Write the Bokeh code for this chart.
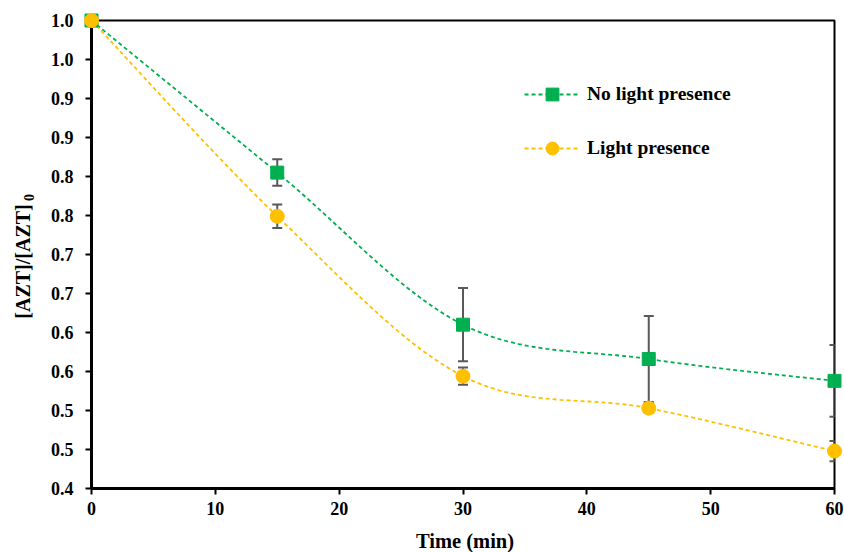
import math
from bokeh.plotting import figure
from bokeh.models import (ColumnDataSource, Whisker, TeeHead, Legend, LegendItem,
                          FixedTicker, Range1d)
from bokeh.core.properties import value
from bokeh.embed import file_html
from bokeh.resources import INLINE

# ---- data ----
time = [0, 15, 30, 45, 60]
no_light = [1.0, 0.805, 0.610, 0.566, 0.538]
no_light_err = [0.0, 0.017, 0.047, 0.055, 0.046]
light = [1.0, 0.749, 0.544, 0.503, 0.448]
light_err = [0.0, 0.015, 0.011, 0.006, 0.013]

y_ticks = [0.4, 0.45, 0.5, 0.55, 0.6, 0.65, 0.7, 0.75, 0.8, 0.85, 0.9, 0.95, 1.0]
y_tick_labels = ["0.4", "0.5", "0.5", "0.6", "0.6", "0.7", "0.7", "0.8", "0.8", "0.9", "0.9", "1.0", "1.0"]
x_ticks = [0, 10, 20, 30, 40, 50, 60]

series_names = ["No light presence", "Light presence"]
x_title = "Time (min)"
y_title = "[AZT]/[AZT]"
y_title_sub = "0"

GREEN = "#00B050"
GOLD = "#FFC000"
ERR = "#595959"
FONT = "Liberation Serif"

X0, X1, Y0, Y1 = 0, 60, 0.4, 1.0
FRAME_W, FRAME_H = 743, 468


def px_to_x(px):
    return X0 + px * (X1 - X0) / FRAME_W


def px_to_y(py):
    return Y0 + py * (Y1 - Y0) / FRAME_H


def smooth(xs, ys, n=40):
    """Excel-style smoothed line (Catmull-Rom Bezier) through the data points."""
    px, py = [], []
    m = len(xs)
    for i in range(m - 1):
        x0, y0 = xs[i], ys[i]
        x3, y3 = xs[i + 1], ys[i + 1]
        xp, yp = (xs[i - 1], ys[i - 1]) if i > 0 else (x0, y0)
        xn, yn = (xs[i + 2], ys[i + 2]) if i + 2 < m else (x3, y3)
        x1, y1 = x0 + (x3 - xp) / 6.0, y0 + (y3 - yp) / 6.0
        x2, y2 = x3 - (xn - x0) / 6.0, y3 - (yn - y0) / 6.0
        for k in range(n + (1 if i == m - 2 else 0)):
            t = k / n
            a, b, c, d = (1 - t) ** 3, 3 * (1 - t) ** 2 * t, 3 * (1 - t) * t ** 2, t ** 3
            px.append(a * x0 + b * x1 + c * x2 + d * x3)
            py.append(a * y0 + b * y1 + c * y2 + d * y3)
    return px, py


p = figure(width=844, height=552, output_backend="svg", toolbar_location=None,
           x_range=Range1d(X0, X1), y_range=Range1d(Y0, Y1),
           min_border_left=91, min_border_right=10, min_border_top=20, min_border_bottom=64)
p.background_fill_color = "white"
p.border_fill_color = "white"
p.outline_line_color = "black"
p.outline_line_width = 2
p.xgrid.visible = False
p.ygrid.visible = False

for ax in (p.xaxis[0], p.yaxis[0]):
    ax.axis_line_color = "black"
    ax.axis_line_width = 3
    ax.major_tick_line_color = "black"
    ax.major_tick_line_width = 2
    ax.major_tick_out = 6
    ax.major_tick_in = 0
    ax.minor_tick_line_color = None
    ax.major_label_text_font = FONT
    ax.major_label_text_font_style = "bold"
    ax.major_label_text_font_size = "18px"
    ax.major_label_text_color = "black"

p.xaxis.ticker = FixedTicker(ticks=x_ticks)
p.yaxis.ticker = FixedTicker(ticks=y_ticks)
p.yaxis.major_label_overrides = {v: s for v, s in zip(y_ticks, y_tick_labels)}
p.xaxis.major_label_standoff = 7
p.yaxis.major_label_standoff = 12

# axis titles drawn as unclipped text glyphs (exact placement, subscript for the y title)
txt_kw = dict(text_font=value(FONT), text_font_style="bold", text_color="black",
              text_align="center", text_baseline="middle", level="overlay")
p.text(x=[px_to_x(373.5)], y=[px_to_y(-52)], text=[x_title],
       text_font_size="20.5px", **txt_kw)
p.text(x=[px_to_x(-69)], y=[px_to_y(227)], text=[y_title], angle=math.pi / 2,
       text_font_size="20px", **txt_kw)
p.text(x=[px_to_x(-62.5)], y=[px_to_y(291)], text=[y_title_sub], angle=math.pi / 2,
       text_font_size="14px", **txt_kw)

# error bars
src_n = ColumnDataSource(dict(x=time, y=no_light,
                              lo=[v - e for v, e in zip(no_light, no_light_err)],
                              hi=[v + e for v, e in zip(no_light, no_light_err)]))
src_l = ColumnDataSource(dict(x=time, y=light,
                              lo=[v - e for v, e in zip(light, light_err)],
                              hi=[v + e for v, e in zip(light, light_err)]))
for src in (src_n, src_l):
    w = Whisker(base="x", lower="lo", upper="hi", source=src, dimension="height",
                line_color=ERR, line_width=2, level="annotation",
                upper_head=TeeHead(size=10, line_color=ERR, line_width=2),
                lower_head=TeeHead(size=10, line_color=ERR, line_width=2))
    p.add_layout(w)

# smoothed dashed lines
sx, sy = smooth(time, no_light)
ln = p.line(sx, sy, line_color=GREEN, line_width=1.8, line_dash="4 3")
lx, ly = smooth(time, light)
ll = p.line(lx, ly, line_color=GOLD, line_width=1.8, line_dash="4 3")

mn = p.scatter("x", "y", source=src_n, marker="square", size=13,
               fill_color=GREEN, line_color=GREEN, level="overlay")
ml = p.scatter("x", "y", source=src_l, marker="circle", size=14,
               fill_color=GOLD, line_color=GOLD, level="overlay")

legend = Legend(items=[LegendItem(label=series_names[0], renderers=[ln, mn]),
                       LegendItem(label=series_names[1], renderers=[ll, ml])],
                location=(433, 324), orientation="vertical")
legend.label_text_font = FONT
legend.label_text_font_style = "bold"
legend.label_text_font_size = "19.5px"
legend.label_text_color = "black"
legend.glyph_width = 56
legend.glyph_height = 32
legend.label_height = 32
legend.label_standoff = 7
legend.spacing = 22
legend.padding = 0
legend.margin = 0
legend.border_line_color = None
legend.background_fill_alpha = 0
p.add_layout(legend)

open("out.html", "w").write(file_html(p, INLINE))
